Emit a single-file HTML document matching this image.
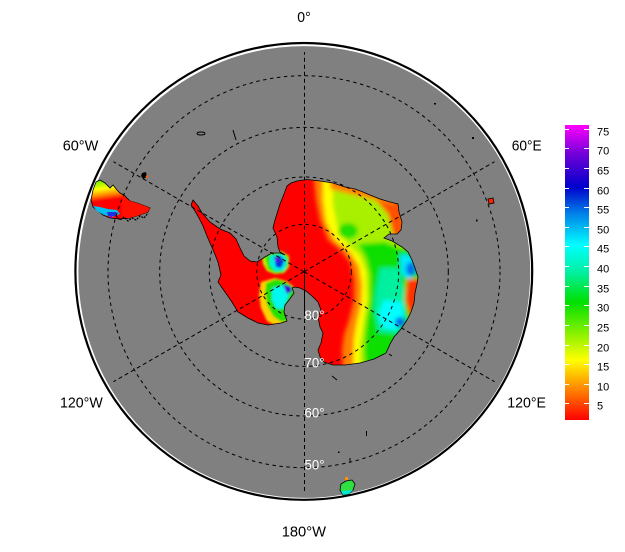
<!DOCTYPE html>
<html><head><meta charset="utf-8"><style>
html,body{margin:0;padding:0;background:#fff;}
svg{display:block;font-family:"Liberation Sans",Arial,sans-serif;}
</style></head><body>
<svg width="625" height="552" viewBox="0 0 625 552" xmlns="http://www.w3.org/2000/svg">
<defs>
<linearGradient id="cb" x1="0" y1="0" x2="0" y2="1">
<stop offset="0" stop-color="#ff00ff"/>
<stop offset="0.10" stop-color="#7000d8"/>
<stop offset="0.21" stop-color="#0000cc"/>
<stop offset="0.30" stop-color="#0080e8"/>
<stop offset="0.407" stop-color="#00ffff"/>
<stop offset="0.50" stop-color="#00f0a0"/>
<stop offset="0.60" stop-color="#00e000"/>
<stop offset="0.70" stop-color="#80f000"/>
<stop offset="0.797" stop-color="#ffff00"/>
<stop offset="0.90" stop-color="#ff8000"/>
<stop offset="1" stop-color="#ff0000"/>
</linearGradient>
<linearGradient id="sa" gradientUnits="userSpaceOnUse" x1="96" y1="182" x2="100" y2="212">
<stop offset="0" stop-color="#80f000"/>
<stop offset="0.25" stop-color="#ffff00"/>
<stop offset="0.45" stop-color="#ff9000"/>
<stop offset="0.65" stop-color="#ff0000"/>
<stop offset="1" stop-color="#ff0000"/>
</linearGradient>
<filter id="bl" x="-20%" y="-20%" width="140%" height="140%"><feGaussianBlur stdDeviation="2"/></filter>
<filter id="bs" x="-20%" y="-20%" width="140%" height="140%"><feGaussianBlur stdDeviation="1"/></filter>
<clipPath id="ant"><path id="antp" d="M193,200 L198,206 L202,213 L210,222 L220,229 L230,233 L236,239 L240,248 L244,256 L250,261 L257,262 L265,257 L272,253 L280,253 L285,255 L280,252 L278,247 L277,237 L273,228 L275,220 L280,204 L284,194 L287,186 L291,183 L297,181 L307,179.5 L320,181 L333,183 L345,187 L355,189 L363,192 L370,195 L380,199 L390,202 L398,204 L399,212 L402,222 L401,230 L397,234 L389,234 L384,238 L392,241 L402,247 L408,252 L412,260 L415,268 L418,277 L417,284 L415,293 L414,303 L411,312 L407,320 L401,329 L394,337 L390,344 L386,353 L374,359 L360,363 L345,365 L333,365 L324,362 L320,357 L318,350 L321,343 L323,333 L320,327 L318,317 L321,310 L318,302 L312,296 L306,291 L300,288 L295,287 L292,288 L294,293 L289,300 L285,305 L284,312 L287,321 L281,323 L268,325 L258,323 L248,318 L238,312 L232,302 L225,292 L218,282 L221,275 L218,262 L214,252 L210,243 L207,236 L203,226 L199,218 L195,211 L191,205 Z"/></clipPath>
</defs>

<!-- globe disk -->
<circle cx="304.3" cy="272" r="226.6" fill="#808080" stroke="#ffffff" stroke-width="1.4"/>
<circle cx="303.8" cy="271.4" r="228.4" fill="none" stroke="#000" stroke-width="2.2"/>

<!-- Antarctica -->
<g clip-path="url(#ant)">
  <rect x="180" y="170" width="250" height="200" fill="#ff0000"/>
  <g filter="url(#bl)">
    <path d="M313,170 L316,200 L320,220 L328,240 L340,250 L350,262 L354,280 L354,300 L349,320 L344,335 L342,350 L343,375 L440,375 L440,170 Z" fill="#ff8000"/>
    <path d="M323,170 L323,200 L326,222 L335,240 L350,252 L359,266 L362,285 L361,305 L357,322 L354,340 L353,375 L440,375 L440,170 Z" fill="#ffff00"/>
    <path d="M333,170 L333,205 L337,225 L348,245 L360,256 L366,272 L367,300 L363,325 L360,345 L360,375 L440,375 L440,170 Z" fill="#a8f000"/>
    <ellipse cx="348" cy="231" rx="10" ry="8" fill="#20e000"/>
    <path d="M358,244 L366,258 L370,275 L370,300 L366,325 L364,350 L366,375 L440,375 L440,250 L400,248 L385,242 Z" fill="#10e000"/>
    <path d="M380,268 L376,290 L374,310 L378,332 L398,334 L404,310 L404,290 L398,268 Z" fill="#00f0a0"/>
    <path d="M384,300 L378,315 L383,328 L398,330 L405,318 L402,302 Z" fill="#00ffff"/>
    <path d="M400,254 L412,256 L418,268 L410,280 L401,274 Z" fill="#00e8ff"/>
    <ellipse cx="400" cy="322" rx="5" ry="5" fill="#0060e8"/>
    <ellipse cx="411" cy="269" rx="5" ry="7" fill="#0070e8"/>
    <path d="M407,279 L422,279 L422,316 L410,316 L405,300 Z" fill="#ff3000"/>
    <path d="M372,196 L402,200 L406,240 L394,238 L388,214 Z" fill="#ff5000"/>
    <path d="M330,176 L398,196 L394,205 L362,197 L330,189 Z" fill="#ff8000"/>
  </g>
  <g filter="url(#bs)">
    <path d="M262,256 L270,252 L281,251 L289,256 L289,267 L284,273 L275,274 L267,271 L263,264 Z" fill="#c0f000"/>
    <path d="M265,257 L271,253 L281,252 L288,257 L288,266 L283,272 L275,273 L268,269 Z" fill="#20e800"/>
    <path d="M270,256 L282,254 L287,260 L285,270 L275,271 L270,265 Z" fill="#00f0e0"/>
    <path d="M274,257 L281,256 L284,262 L281,268 L276,267 Z" fill="#0030e0"/>
    <circle cx="277" cy="260" r="2" fill="#6000d0"/>
    <path d="M261,282 L275,278 L286,281 L293,286 L296,295 L289,302 L286,312 L289,322 L276,326 L267,321 L261,308 L259,295 Z" fill="#ffd000"/>
    <path d="M266,283 L276,279 L286,282 L293,287 L295,295 L289,302 L286,312 L288,321 L281,322 L273,316 L267,305 L265,293 Z" fill="#20e000"/>
    <path d="M272,288 L284,285 L290,292 L286,302 L283,309 L276,308 L272,300 Z" fill="#00f8f0"/>
    <path d="M283,285 L290,286 L292,291 L287,294 Z" fill="#4000d0"/>
  </g>
</g>
<use href="#antp" fill="none" stroke="#000" stroke-width="0.8"/>

<!-- South America tip -->
<path d="M96,182 L100,180 L105,183 L110,188 L113,185 L117,190 L120,193 L124,195 L130,201 L137,203 L145,206 L150,208 L148,212 L140,215 L130,218 L120,219 L110,218 L103,215 L97,210 L93,207 L91,200 L93,190 Z" fill="url(#sa)" stroke="#000" stroke-width="0.8"/>
<path d="M122,196 L130,201 L137,203 L145,206 L150,208 L148,212 L140,215 L130,218 L122,218 Z" fill="#ff1000"/>
<path d="M93,206 L100,207 L108,209 L117,210 L120,214 L112,217 L104,215 L97,211 Z" fill="#00c0f0"/>
<path d="M107,212 L116,212 L117,216 L108,216 Z" fill="#2030e0"/>
<circle cx="111" cy="217" r="1.2" fill="#8000d0"/>
<path d="M116,216 L120,220 L124,217 L128,221 L132,218 L136,220 L140,216 L144,218 L148,213" fill="none" stroke="#000" stroke-width="1.2" stroke-dasharray="2 1"/>

<!-- New Zealand -->
<path d="M341,484 L346,481 L352,480 L355,484 L353,490 L349,494 L343,495 L340,490 Z" fill="#30e040" stroke="#000" stroke-width="0.8"/>
<path d="M341,491 L353,490 L349,494 L343,495 Z" fill="#00e8d0"/>
<rect x="345" y="477" width="3" height="3" fill="#ff9000"/>

<!-- small islands -->
<ellipse cx="201" cy="133.5" rx="4" ry="1.5" fill="none" stroke="#000" stroke-width="0.9"/>
<path d="M142,173 L146,172 L147,177 L143,179 L141,176 Z" fill="#000"/>
<circle cx="147" cy="176.5" r="1.3" fill="#ff6000"/>
<line x1="233" y1="130" x2="236" y2="140" stroke="#000" stroke-width="1"/>
<rect x="472" y="137" width="2" height="2" fill="#000"/>
<rect x="434" y="103" width="2" height="1.5" fill="#000"/>
<path d="M488,199 L493,198 L494,203 L489,204 Z" fill="#ff2000" stroke="#000" stroke-width="0.8"/>
<rect x="476" y="219.5" width="1.5" height="2" fill="#000"/>
<line x1="366.5" y1="431" x2="366.5" y2="436" stroke="#000" stroke-width="1"/>
<rect x="338" y="451.5" width="1.5" height="1.5" fill="#000"/>
<line x1="350" y1="458" x2="350" y2="462" stroke="#000" stroke-width="1"/>
<line x1="332" y1="376" x2="337" y2="380" stroke="#000" stroke-width="1"/>
<line x1="389" y1="354" x2="392" y2="356" stroke="#000" stroke-width="1"/>

<!-- graticule -->
<g fill="none" stroke="#000" stroke-width="1" stroke-dasharray="3.5 3.5">
  <circle cx="304" cy="271.7" r="47.3"/>
  <circle cx="304" cy="271.7" r="94.7"/>
  <circle cx="304" cy="271.7" r="144.3"/>
  <circle cx="304" cy="271.7" r="196"/>
</g>
<g stroke="#000" stroke-width="1" stroke-dasharray="4 3">
  <line x1="304.5" y1="271.7" x2="304.5" y2="52"/>
  <line x1="304.5" y1="312" x2="304.5" y2="492"/>
  <line x1="304" y1="271.7" x2="494.5" y2="161.7"/>
  <line x1="304" y1="271.7" x2="494.5" y2="381.7"/>
  <line x1="304" y1="271.7" x2="113.5" y2="381.7"/>
  <line x1="304" y1="271.7" x2="113.5" y2="161.7"/>
</g>
<line x1="304.5" y1="271.7" x2="304.5" y2="312" stroke="#000" stroke-width="1"/>

<!-- latitude labels -->
<g fill="#fff" font-size="14">
  <text x="304.5" y="320" textLength="20" lengthAdjust="spacingAndGlyphs">80°</text>
  <text x="304.5" y="367.5" textLength="20" lengthAdjust="spacingAndGlyphs">70°</text>
  <text x="304.5" y="417.3" textLength="20" lengthAdjust="spacingAndGlyphs">60°</text>
  <text x="304.5" y="469.3" textLength="20" lengthAdjust="spacingAndGlyphs">50°</text>
</g>

<!-- longitude labels -->
<g fill="#000" font-size="15">
  <text x="297.3" y="22" textLength="13.4" lengthAdjust="spacingAndGlyphs">0°</text>
  <text x="62.7" y="150.7" textLength="35.6" lengthAdjust="spacingAndGlyphs">60°W</text>
  <text x="511.7" y="150.7" textLength="30" lengthAdjust="spacingAndGlyphs">60°E</text>
  <text x="60" y="407.7" textLength="42.7" lengthAdjust="spacingAndGlyphs">120°W</text>
  <text x="507.3" y="407.7" textLength="38.7" lengthAdjust="spacingAndGlyphs">120°E</text>
  <text x="281.7" y="536.7" textLength="44.3" lengthAdjust="spacingAndGlyphs">180°W</text>
</g>

<!-- colorbar -->
<rect x="565" y="125" width="24" height="295" fill="url(#cb)"/>
<g stroke="#fff" stroke-width="1">
  <path d="M565,129.5h4M584,129.5h5 M565,148.5h4M584,148.5h5 M565,168.5h4M584,168.5h5 M565,188.5h4M584,188.5h5 M565,207.5h4M584,207.5h5 M565,227.5h4M584,227.5h5 M565,246.5h4M584,246.5h5 M565,266.5h4M584,266.5h5 M565,286.5h4M584,286.5h5 M565,305.5h4M584,305.5h5 M565,325.5h4M584,325.5h5 M565,345.5h4M584,345.5h5 M565,364.5h4M584,364.5h5 M565,384.5h4M584,384.5h5 M565,403.5h4M584,403.5h5"/>
</g>
<g fill="#000" font-size="11">
  <text x="597" y="135.5">75</text>
  <text x="597" y="154.5">70</text>
  <text x="597" y="174.5">65</text>
  <text x="597" y="194.5">60</text>
  <text x="597" y="213.5">55</text>
  <text x="597" y="233.5">50</text>
  <text x="597" y="252.5">45</text>
  <text x="597" y="272.5">40</text>
  <text x="597" y="292.5">35</text>
  <text x="597" y="311.5">30</text>
  <text x="597" y="331.5">25</text>
  <text x="597" y="351.5">20</text>
  <text x="597" y="370.5">15</text>
  <text x="597" y="390.5">10</text>
  <text x="597" y="409.5">5</text>
</g>
</svg>
</body></html>
